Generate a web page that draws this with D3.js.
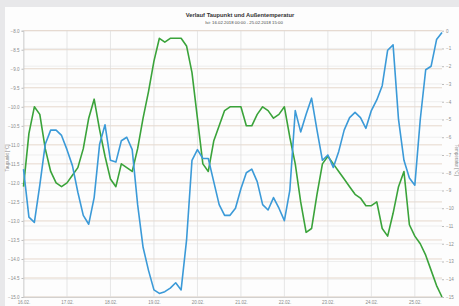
<!DOCTYPE html>
<html>
<head>
<meta charset="utf-8">
<script src="https://cdn.jsdelivr.net/npm/d3@7"></script>
<style>
  body { margin: 0; background: #e8e8ea; }
  svg { display: block; font-family: "Liberation Sans", Arial, sans-serif; }
</style>
</head>
<body>
<svg id="chart" width="459" height="306"></svg>
<script>
// Zeitachse: 3-Stunden-Werte ab 16.02.2018 00:00
const start = new Date(2018, 1, 16, 0, 0);
const stepHours = 3;

// Taupunkt [°C] (linke Achse, grün)
const taupunkt = [
  -12.1, -10.7, -10.0, -10.2, -11.1, -11.7, -12.0, -12.1, -12.0, -11.8,
  -11.6, -11.1, -10.3, -9.8, -10.6, -11.3, -11.9, -12.1, -11.5, -11.6,
  -11.7, -11.1, -10.3, -9.6, -8.8, -8.2, -8.3, -8.2, -8.2, -8.2,
  -8.4, -9.1, -10.3, -11.5, -11.7, -10.9, -10.5, -10.1, -10.0, -10.0,
  -10.0, -10.5, -10.5, -10.2, -10.0, -10.1, -10.3, -10.2, -10.0, -10.8,
  -11.5, -12.5, -13.3, -13.2, -12.3, -11.5, -11.3, -11.5, -11.7, -11.9,
  -12.1, -12.3, -12.4, -12.6, -12.6, -12.5, -13.2, -13.4, -12.8, -12.1,
  -11.7, -13.1, -13.4, -13.6, -13.9, -14.3, -14.7, -15.0
];

// Außentemperatur [°C] (rechte Achse, blau)
const temperatur = [
  -7.8, -10.5, -10.8, -8.7, -6.4, -5.6, -5.6, -5.9, -6.7, -7.6,
  -9.1, -10.4, -10.9, -9.4, -6.4, -5.3, -7.3, -7.4, -6.2, -6.0,
  -6.7, -9.8, -12.2, -13.5, -14.6, -14.8, -14.7, -14.5, -14.2, -14.6,
  -11.8, -7.3, -6.7, -7.2, -7.2, -8.5, -9.8, -10.4, -10.4, -10.0,
  -8.9, -8.0, -7.8, -8.5, -9.8, -10.1, -9.4, -10.0, -10.7, -9.0,
  -4.5, -5.7, -4.7, -3.8, -5.6, -7.3, -7.0, -7.7, -6.8, -5.6,
  -4.9, -4.6, -4.9, -5.5, -4.5, -3.9, -3.1, -1.1, -0.8, -5.0,
  -7.3, -8.3, -8.7, -5.0, -2.2, -2.0, -0.5, -0.1
];

const leftTicks = d3.range(-8, -15.01, -0.5);
const rightTicks = d3.range(0, -15.01, -1);
const dayTicks = d3.range(0, 10).map(d => new Date(2018, 1, 16 + d));

const title = "Verlauf Taupunkt und Außentemperatur";
const subtitle = "Ist: 16.02.2018 00:00 - 25.02.2018 15:00";

const svg = d3.select("#chart");
const W = 459, H = 306;
const margin = { top: 30.7, right: 17, bottom: 9, left: 23.5 };

// weißes Panel
svg.append("rect")
  .attr("x", 5).attr("y", 7)
  .attr("width", W - 5).attr("height", H - 7)
  .attr("fill", "#fdfdfd");

const times = taupunkt.map((d, i) => new Date(start.getTime() + i * stepHours * 3600e3));

const x = d3.scaleTime()
  .domain([start, times[times.length - 1]])
  .range([margin.left, W - margin.right]);

const yL = d3.scaleLinear().domain([-15, -8]).range([H - margin.bottom, margin.top]);
const yR = d3.scaleLinear().domain([-15, 0]).range([H - margin.bottom, margin.top]);

// Gitterlinien
svg.append("g")
  .selectAll("line")
  .data(rightTicks)
  .join("line")
  .attr("x1", margin.left).attr("x2", W - margin.right)
  .attr("y1", d => yR(d)).attr("y2", d => yR(d))
  .attr("stroke", "#e4e4e4").attr("stroke-width", 0.6);

svg.append("g")
  .selectAll("line")
  .data(leftTicks)
  .join("line")
  .attr("x1", margin.left).attr("x2", W - margin.right)
  .attr("y1", d => yL(d)).attr("y2", d => yL(d))
  .attr("stroke", "#dcc8b8").attr("stroke-width", 0.7);

svg.append("g")
  .selectAll("line")
  .data(dayTicks)
  .join("line")
  .attr("x1", d => x(d)).attr("x2", d => x(d))
  .attr("y1", margin.top).attr("y2", H - margin.bottom)
  .attr("stroke", "#dddddd").attr("stroke-width", 0.7);

// Achsen
const axL = svg.append("g")
  .attr("transform", `translate(${margin.left},0)`)
  .call(d3.axisLeft(yL).tickValues(leftTicks).tickFormat(d3.format(".1f")).tickSize(2).tickPadding(2));
const axR = svg.append("g")
  .attr("transform", `translate(${W - margin.right},0)`)
  .call(d3.axisRight(yR).tickValues(rightTicks).tickFormat(d3.format("d")).tickSize(2).tickPadding(2));
const axB = svg.append("g")
  .attr("transform", `translate(0,${H - margin.bottom})`)
  .call(d3.axisBottom(x).tickValues(dayTicks).tickFormat(d3.timeFormat("%d.%m.")).tickSize(0).tickPadding(4));

[axL, axR, axB].forEach(ax => {
  ax.selectAll("text").attr("fill", "#8a8a8a").style("font-size", "4.5px");
  ax.selectAll("line").attr("stroke", "#bbb");
  ax.select(".domain").attr("stroke", "#c8c8c8").attr("stroke-width", 0.7);
});
axR.select(".domain").remove();

// Linien
const lineL = d3.line().x((d, i) => x(times[i])).y(d => yL(d));
const lineR = d3.line().x((d, i) => x(times[i])).y(d => yR(d));

svg.append("path")
  .datum(taupunkt)
  .attr("d", lineL)
  .attr("fill", "none")
  .attr("stroke", "#3aa33a")
  .attr("stroke-width", 1.6)
  .attr("stroke-linejoin", "round");

svg.append("path")
  .datum(temperatur)
  .attr("d", lineR)
  .attr("fill", "none")
  .attr("stroke", "#3b9ad8")
  .attr("stroke-width", 1.6)
  .attr("stroke-linejoin", "round");

// Titel
svg.append("text")
  .attr("x", 240).attr("y", 17)
  .attr("text-anchor", "middle")
  .style("font-size", "5.8px").style("font-weight", "bold")
  .attr("fill", "#333")
  .text(title);
svg.append("text")
  .attr("x", 244).attr("y", 23.5)
  .attr("text-anchor", "middle")
  .style("font-size", "4.3px")
  .attr("fill", "#444")
  .text(subtitle);

// Achsentitel
svg.append("text")
  .attr("transform", "translate(9,158) rotate(-90)")
  .attr("text-anchor", "middle")
  .style("font-size", "4.5px").attr("fill", "#888")
  .text("Taupunkt [°C]");
svg.append("text")
  .attr("transform", "translate(455,160) rotate(90)")
  .attr("text-anchor", "middle")
  .style("font-size", "4.5px").attr("fill", "#888")
  .text("Temperatur [°C]");
</script>
</body>
</html>
